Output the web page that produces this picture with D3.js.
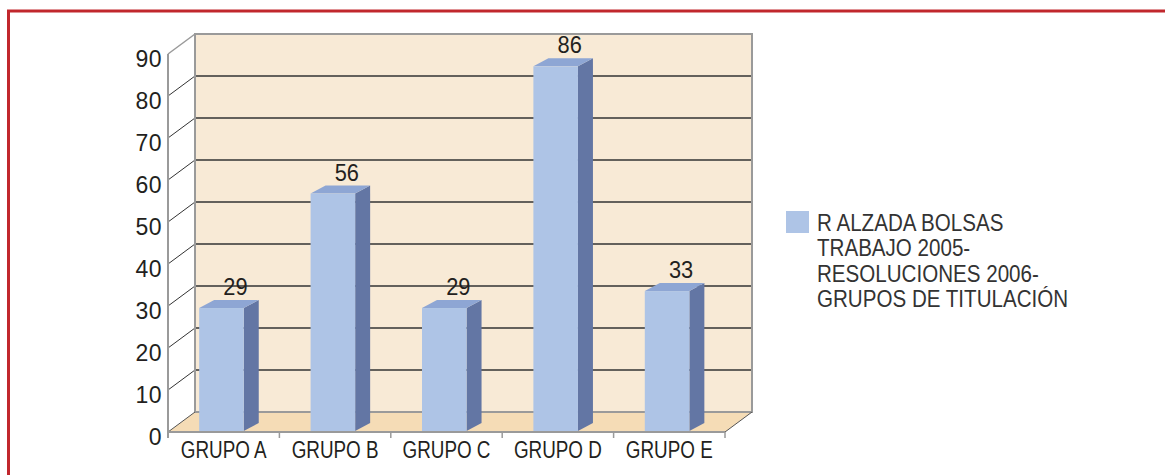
<!DOCTYPE html>
<html>
<head>
<meta charset="utf-8">
<script src="https://cdn.jsdelivr.net/npm/d3@7"></script>
<style>
  html, body { margin: 0; padding: 0; background: #fff; }
  svg { display: block; font-family: "Liberation Sans", Arial, sans-serif; }
</style>
</head>
<body>
<svg id="chart" width="1165" height="475"></svg>
<script>
// ---- data ----
const categories = ["GRUPO A", "GRUPO B", "GRUPO C", "GRUPO D", "GRUPO E"];
const values = [29, 56, 29, 86, 33];
const yTicks = [0, 10, 20, 30, 40, 50, 60, 70, 80, 90];
const legendLines = ["R ALZADA BOLSAS", "TRABAJO 2005-", "RESOLUCIONES 2006-", "GRUPOS DE TITULACIÓN"];

// ---- layout ----
const svg = d3.select("#chart");
const DX = 27, DY = -20;            // depth offset of the 3D box
const frontL = 168, frontR = 725;
const yFront = d3.scaleLinear().domain([0, 90]).range([432, 54]);
const yBack  = d3.scaleLinear().domain([0, 90]).range([412, 34]);
const yBar   = d3.scaleLinear().domain([0, 90]).range([431, 49.4]);
const x = d3.scaleBand().domain(categories).range([frontL, frontR]).padding(0);
const bw = x.bandwidth();
const barDX = 15, barDY = -8;
const FS = 23;

const cWall = "#f8ead6", cFloor = "#f5dcb6", cEdge = "#9a9a9a", cGrid = "#333333";
const cFront = "#aec4e6", cSide = "#6376a4", cTop = "#8ea6d4";
const cText = "#231f20";

// red frame
svg.append("path").attr("d", "M8.5,475 V11 H1165")
  .attr("fill", "none").attr("stroke", "#c1272d").attr("stroke-width", 3);

// left side wall
const bL = frontL + DX;
svg.append("polygon")
  .attr("points", [[frontL, yFront(0)], [bL, yBack(0)], [bL, yBack(90)], [frontL, yFront(90)]].join(" "))
  .attr("fill", "#ffffff");
svg.selectAll(".sgrid").data(yTicks.filter(v => v > 0 && v < 90)).join("line")
  .attr("x1", frontL).attr("y1", d => yFront(d)).attr("x2", bL).attr("y2", d => yBack(d))
  .attr("stroke", cGrid).attr("stroke-width", 1);

// back wall
const backR = frontR + DX;
svg.append("rect").attr("x", bL).attr("y", yBack(90))
  .attr("width", backR - bL).attr("height", yBack(0) - yBack(90))
  .attr("fill", cWall);
svg.selectAll(".bgrid").data(yTicks.filter(v => v > 0 && v < 90)).join("line")
  .attr("x1", bL).attr("x2", backR).attr("y1", d => yBack(d)).attr("y2", d => yBack(d))
  .attr("stroke", cGrid).attr("stroke-width", 1.3);

// floor
svg.append("polygon")
  .attr("points", [[frontL, yFront(0)], [frontR, yFront(0)], [backR, yBack(0)], [bL, yBack(0)]].join(" "))
  .attr("fill", cFloor);

// wall edges
svg.append("rect").attr("x", bL).attr("y", yBack(90))
  .attr("width", backR - bL).attr("height", yBack(0) - yBack(90))
  .attr("fill", "none").attr("stroke", cEdge).attr("stroke-width", 2);
svg.append("line").attr("x1", frontL).attr("y1", yFront(90)).attr("x2", bL).attr("y2", yBack(90))
  .attr("stroke", cEdge).attr("stroke-width", 1.5);
svg.append("line").attr("x1", frontL).attr("y1", yFront(0)).attr("x2", bL).attr("y2", yBack(0))
  .attr("stroke", "#555").attr("stroke-width", 1);
svg.append("line").attr("x1", frontR).attr("y1", yFront(0)).attr("x2", backR).attr("y2", yBack(0))
  .attr("stroke", "#555").attr("stroke-width", 1);

// bars
const bars = svg.append("g");
categories.forEach((c, i) => {
  const v = values[i];
  const xl = x(c) + 0.28 * bw, wd = 0.4 * bw, xr = xl + wd;
  const yt = yBar(v), yb = yBar(0);
  bars.append("polygon")
    .attr("points", [[xr, yb], [xr + barDX, yb + barDY], [xr + barDX, yt + barDY], [xr, yt]].join(" "))
    .attr("fill", cSide);
  bars.append("polygon")
    .attr("points", [[xl, yt], [xr, yt], [xr + barDX, yt + barDY], [xl + barDX, yt + barDY]].join(" "))
    .attr("fill", cTop);
  bars.append("rect").attr("x", xl).attr("y", yt).attr("width", wd).attr("height", yb - yt)
    .attr("fill", cFront);
  bars.append("text")
    .attr("transform", `translate(${xl + wd / 2 + 14},${yt + barDY - 5}) scale(0.95,1)`)
    .attr("text-anchor", "middle").attr("font-size", FS).attr("fill", cText)
    .text(v);
});

// front axes
svg.append("line").attr("x1", frontL).attr("x2", frontL).attr("y1", yFront(90)).attr("y2", yFront(0) + 6)
  .attr("stroke", cEdge).attr("stroke-width", 2);
svg.append("line").attr("x1", frontL).attr("x2", frontR).attr("y1", yFront(0)).attr("y2", yFront(0))
  .attr("stroke", cEdge).attr("stroke-width", 2);
const bounds = categories.map(c => x(c)).concat([frontR]);
svg.selectAll(".xtick").data(bounds).join("line")
  .attr("x1", d => d).attr("x2", d => d).attr("y1", yFront(0)).attr("y2", yFront(0) + 6)
  .attr("stroke", cEdge).attr("stroke-width", 1.5);

// y tick labels
svg.selectAll(".ylab").data(yTicks).join("text")
  .attr("transform", d => `translate(162,${yFront(d) + 12.5})`)
  .attr("text-anchor", "end").attr("font-size", FS).attr("fill", cText)
  .attr("letter-spacing", 0.4)
  .text(d => d);

// category labels
svg.selectAll(".xlab").data(categories).join("text")
  .attr("transform", d => `translate(${x(d) + bw / 2},457.5) scale(0.82,1)`)
  .attr("text-anchor", "middle").attr("font-size", FS).attr("fill", cText)
  .text(d => d);

// legend
svg.append("rect").attr("x", 786).attr("y", 211).attr("width", 23).attr("height", 22).attr("fill", cFront);
svg.selectAll(".leg").data(legendLines).join("text")
  .attr("transform", (d, i) => `translate(817,${230.5 + i * 25.5}) scale(0.895,1)`)
  .attr("font-size", FS).attr("fill", "#333333")
  .text(d => d);
</script>
</body>
</html>
